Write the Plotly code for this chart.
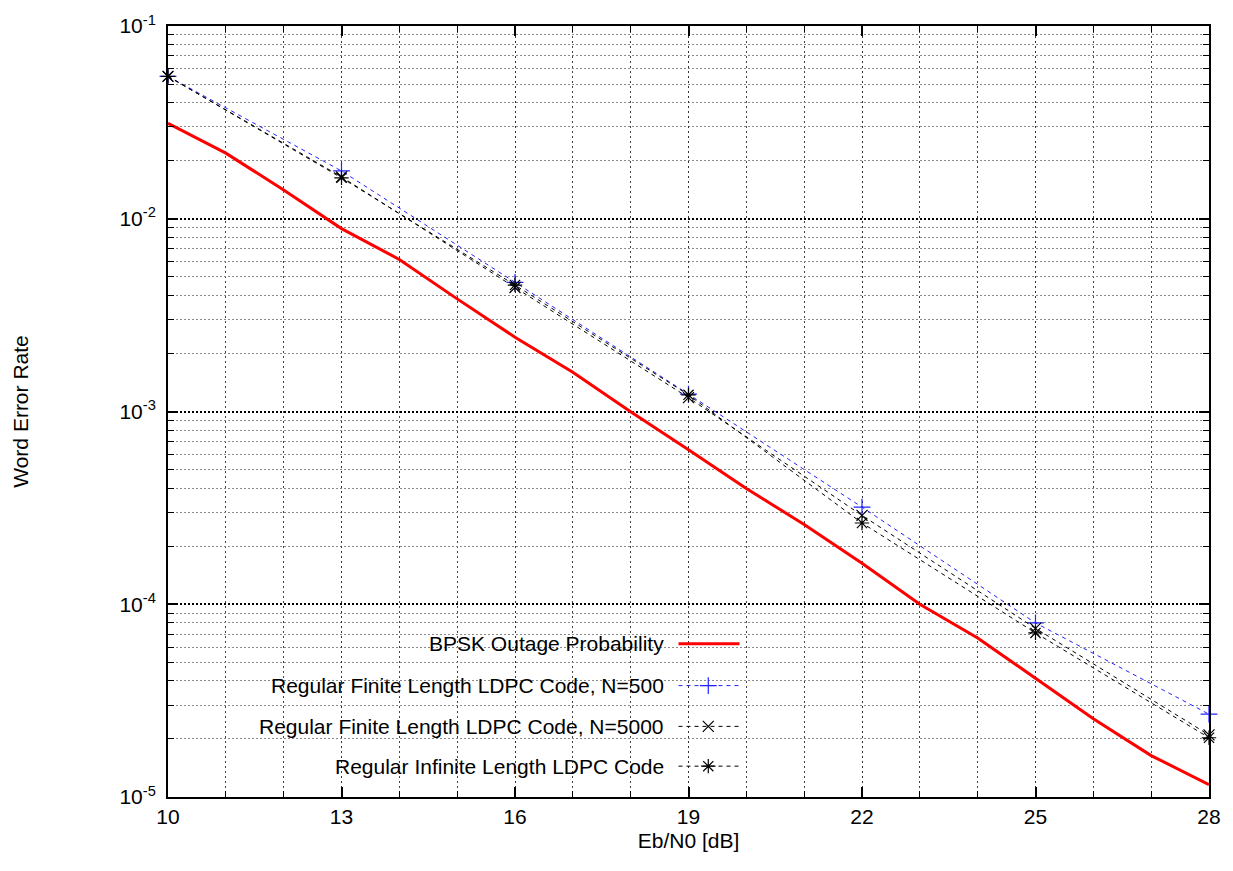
import plotly.graph_objects as go

# ---------------- data ----------------
ebn0_bpsk = [10, 11, 12, 13, 14, 15, 16, 17, 18, 19, 20, 21, 22, 23, 24, 25, 26, 27, 28]
wer_bpsk = [0.0313, 0.0219, 0.0141, 0.00889, 0.00615, 0.00384, 0.00243, 0.00160,
            9.96e-4, 6.34e-4, 3.99e-4, 2.59e-4, 1.63e-4, 1.00e-4, 6.69e-5, 4.11e-5,
            2.55e-5, 1.64e-5, 1.16e-5]

ebn0_ldpc = [10, 13, 16, 19, 22, 25, 28]
wer_n500 = [0.0548, 0.0177, 0.00468, 0.00123, 3.19e-4, 8.0e-5, 2.69e-5]
wer_n5000 = [0.0548, 0.0165, 0.00440, 0.00118, 2.89e-4, 7.5e-5, 2.10e-5]
wer_inf = [0.0548, 0.0163, 0.00453, 0.00122, 2.64e-4, 7.1e-5, 2.03e-5]

names = ["BPSK Outage Probability",
         "Regular Finite Length LDPC Code, N=500",
         "Regular Finite Length LDPC Code, N=5000",
         "Regular Infinite Length LDPC Code"]

x_ticks = [10, 13, 16, 19, 22, 25, 28]
y_ticks = [1e-5, 1e-4, 1e-3, 1e-2, 1e-1]
y_ticktext = ["10<sup>-5</sup>", "10<sup>-4</sup>", "10<sup>-3</sup>",
              "10<sup>-2</sup>", "10<sup>-1</sup>"]

# ---------------- styles ----------------
FONT = "Liberation Sans, Arial, sans-serif"
FS = 21
RED = "#ff0000"
BLUE = "#2222ff"
BLACK = "#000000"
DASH = "4px,4px"

styles = [
    dict(mode="lines", line=dict(color=RED, width=3), marker=None),
    dict(mode="lines+markers", line=dict(color=BLUE, width=1, dash=DASH),
         marker=dict(symbol="cross-thin-open", size=12, color=BLUE, line=dict(color=BLUE, width=1.2))),
    dict(mode="lines+markers", line=dict(color=BLACK, width=1, dash=DASH),
         marker=dict(symbol="x-thin-open", size=11, color=BLACK, line=dict(color=BLACK, width=1.2))),
    dict(mode="lines+markers", line=dict(color=BLACK, width=1, dash=DASH),
         marker=dict(symbol="asterisk-open", size=12, color=BLACK, line=dict(color=BLACK, width=1.2))),
]

fig = go.Figure()
series = [(ebn0_bpsk, wer_bpsk), (ebn0_ldpc, wer_n500), (ebn0_ldpc, wer_n5000), (ebn0_ldpc, wer_inf)]
for (xs, ys), nm, st in zip(series, names, styles):
    kw = dict(x=xs, y=ys, name=nm, mode=st["mode"], line=st["line"], cliponaxis=False,
              showlegend=False)
    if st["marker"] is not None:
        kw["marker"] = st["marker"]
    fig.add_trace(go.Scatter(**kw))

# ---------------- custom gnuplot-like key (text right, sample left) ----------------
key_rows = [0.1987, 0.1445, 0.0916, 0.040]      # fractions of plot height
key_text_x = 0.478                              # right edge of key text
key_sample = (0.4904, 0.519, 0.549)             # sample start / marker / end
for row, nm, st in zip(key_rows, names, styles):
    fig.add_trace(go.Scatter(x=[key_sample[0], key_sample[2]], y=[row, row], mode="lines",
                             line=st["line"], xaxis="x2", yaxis="y2", showlegend=False,
                             hoverinfo="skip"))
    if st["marker"] is not None:
        fig.add_trace(go.Scatter(x=[key_sample[1]], y=[row], mode="markers",
                                 marker=st["marker"], xaxis="x2", yaxis="y2",
                                 showlegend=False, hoverinfo="skip"))
    fig.add_annotation(text=nm, xref="paper", yref="paper", x=key_text_x, y=row,
                       xanchor="right", yanchor="middle", showarrow=False,
                       font=dict(family=FONT, size=FS, color="black"))

# white key box hiding the grid
fig.add_shape(type="rect", xref="paper", yref="paper", x0=0.002, x1=0.633, y0=0.002, y1=0.226,
              fillcolor="white", line=dict(width=0), layer="between")

axis_common = dict(showline=True, linecolor="black", linewidth=2, mirror="ticks",
                   ticks="inside", ticklen=10, tickwidth=1.5, tickcolor="black",
                   tickfont=dict(family=FONT, size=FS, color="black"),
                   showgrid=True, zeroline=False)

fig.update_layout(
    width=1233, height=871,
    margin=dict(l=168, r=23, t=22, b=74),
    paper_bgcolor="white", plot_bgcolor="white",
    font=dict(family=FONT, size=FS, color="black"),
    showlegend=False,
    xaxis=dict(range=[10, 28], tickvals=x_ticks, **axis_common,
               gridcolor="#333333", gridwidth=1, griddash="2px,3px",
               minor=dict(dtick=1, tick0=10, ticks="inside", ticklen=6, tickwidth=1.2,
                          tickcolor="black", showgrid=True, gridcolor="#444444",
                          gridwidth=1, griddash="2px,3px"),
               title=dict(text="Eb/N0 [dB]", font=dict(family=FONT, size=FS), standoff=6)),
    yaxis=dict(type="log", range=[-5, -1], tickvals=y_ticks, ticktext=y_ticktext, **axis_common,
               gridcolor="#000000", gridwidth=1.5, griddash="2px,2px",
               ticklabelstandoff=6,
               minor=dict(tickvals=[m * 10.0 ** e for e in range(-5, -1) for m in range(2, 10)],
                          ticks="inside", ticklen=6, tickwidth=1.2, tickcolor="black",
                          showgrid=True, gridcolor="#8a8a8a", gridwidth=1, griddash="2px,2px"),
               title=dict(text="Word Error Rate", font=dict(family=FONT, size=FS), standoff=85)),
    xaxis2=dict(overlaying="x", range=[0, 1], visible=False),
    yaxis2=dict(overlaying="y", range=[0, 1], visible=False),
)

fig.write_html("out.html")
